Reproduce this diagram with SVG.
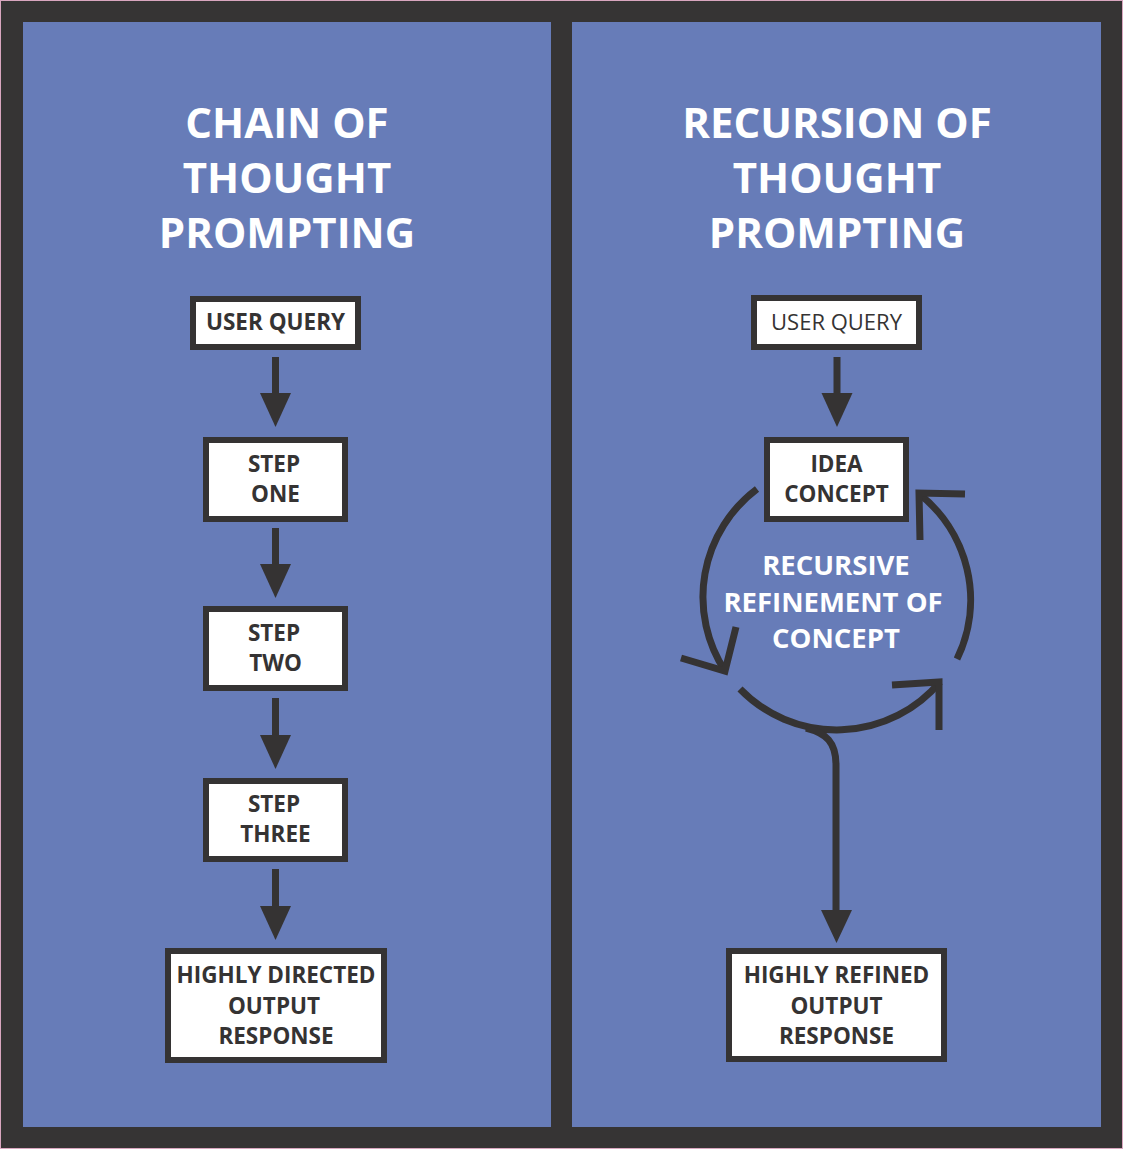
<svg xmlns="http://www.w3.org/2000/svg" width="1123" height="1149" viewBox="0 0 1123 1149">
<style>
.title{font-family:"Open Sans","Liberation Sans",sans-serif;font-weight:700;font-size:42px;fill:#ffffff;text-anchor:middle}
.box{fill:#ffffff;stroke:#353333;stroke-width:6}
.lbl{font-family:"Open Sans","Liberation Sans",sans-serif;font-weight:700;font-size:22.5px;fill:#353333;text-anchor:middle}
.lblr{font-family:"Open Sans","Liberation Sans",sans-serif;font-weight:400;font-size:22px;fill:#353333;text-anchor:middle}
.mid{font-family:"Open Sans","Liberation Sans",sans-serif;font-weight:700;font-size:27.5px;fill:#ffffff;text-anchor:middle}
.shaft{stroke:#353333;stroke-width:7;fill:none}
.head{fill:#353333}
.loop{stroke:#353333;stroke-width:7;fill:none}
</style>
<rect x="0" y="0" width="1123" height="1149" fill="#363434"/>
<rect x="0.5" y="0.5" width="1122" height="1148" fill="none" stroke="#d9a6bf" stroke-width="1"/>
<rect x="23" y="22" width="528" height="1105" fill="#677cb8"/>
<rect x="572" y="22" width="529" height="1105" fill="#677cb8"/>

<g id="title-left">
<text class="title" x="287" y="138">CHAIN OF</text>
<text class="title" x="287" y="193">THOUGHT</text>
<text class="title" x="287" y="248">PROMPTING</text>
</g>
<g id="title-right">
<text class="title" x="837" y="138">RECURSION OF</text>
<text class="title" x="837" y="193">THOUGHT</text>
<text class="title" x="837" y="248">PROMPTING</text>
</g>

<g id="connectors">
<line class="shaft" x1="275.5" y1="357" x2="275.5" y2="395"/>
<polygon class="head" points="260,393 291,393 275.5,427"/>
<line class="shaft" x1="275.5" y1="528" x2="275.5" y2="566"/>
<polygon class="head" points="260,564 291,564 275.5,598"/>
<line class="shaft" x1="275.5" y1="698" x2="275.5" y2="737"/>
<polygon class="head" points="260,735 291,735 275.5,769"/>
<line class="shaft" x1="275.5" y1="869" x2="275.5" y2="908"/>
<polygon class="head" points="260,906 291,906 275.5,940"/>

<line class="shaft" x1="837" y1="357" x2="837" y2="395"/>
<polygon class="head" points="821.5,393 852.5,393 837,427"/>

<path class="loop" d="M 757 489 A 135 135 0 0 0 725 671"/>
<polyline class="loop" points="681,658 725,671 736,627"/>
<path class="loop" d="M 740 689 A 135 135 0 0 0 940 682"/>
<polyline class="loop" points="892,685 939,682 939,730"/>
<path class="loop" d="M 957 659 A 135 135 0 0 0 918 493"/>
<polyline class="loop" points="965,494 919,493 920,540"/>
<path class="loop" d="M 806 728 C 826 733, 836 742, 836 765 L 836 912"/>
<polygon class="head" points="821,910 852,910 836.5,943"/>
</g>

<g id="n-user-query-left">
<rect class="box" x="193" y="299" width="165" height="48"/>
<text class="lbl" x="275.5" y="330">USER QUERY</text>
</g>
<g id="n-step-one">
<rect class="box" x="206" y="440" width="139" height="79"/>
<text class="lbl" x="274" y="472">STEP</text>
<text class="lbl" x="275.5" y="502">ONE</text>
</g>
<g id="n-step-two">
<rect class="box" x="206" y="609" width="139" height="79"/>
<text class="lbl" x="274" y="641">STEP</text>
<text class="lbl" x="275.5" y="671">TWO</text>
</g>
<g id="n-step-three">
<rect class="box" x="206" y="781" width="139" height="78"/>
<text class="lbl" x="274" y="812">STEP</text>
<text class="lbl" x="275.5" y="842">THREE</text>
</g>
<g id="n-highly-directed">
<rect class="box" x="168" y="951" width="216" height="109"/>
<text class="lbl" x="276" y="983">HIGHLY DIRECTED</text>
<text class="lbl" x="274" y="1014">OUTPUT</text>
<text class="lbl" x="276" y="1044">RESPONSE</text>
</g>

<g id="n-user-query-right">
<rect class="box" x="754" y="298" width="165" height="49"/>
<text class="lblr" x="836.5" y="330">USER QUERY</text>
</g>
<g id="n-idea-concept">
<rect class="box" x="767" y="440" width="139" height="79"/>
<text class="lbl" x="836.5" y="472">IDEA</text>
<text class="lbl" x="836.5" y="502">CONCEPT</text>
</g>
<g id="n-recursive-label">
<text class="mid" x="836" y="575">RECURSIVE</text>
<text class="mid" x="833" y="612">REFINEMENT OF</text>
<text class="mid" x="836" y="648">CONCEPT</text>
</g>
<g id="n-highly-refined">
<rect class="box" x="729" y="951" width="215" height="108"/>
<text class="lbl" x="836.5" y="983">HIGHLY REFINED</text>
<text class="lbl" x="836.5" y="1014">OUTPUT</text>
<text class="lbl" x="836.5" y="1044">RESPONSE</text>
</g>
</svg>
